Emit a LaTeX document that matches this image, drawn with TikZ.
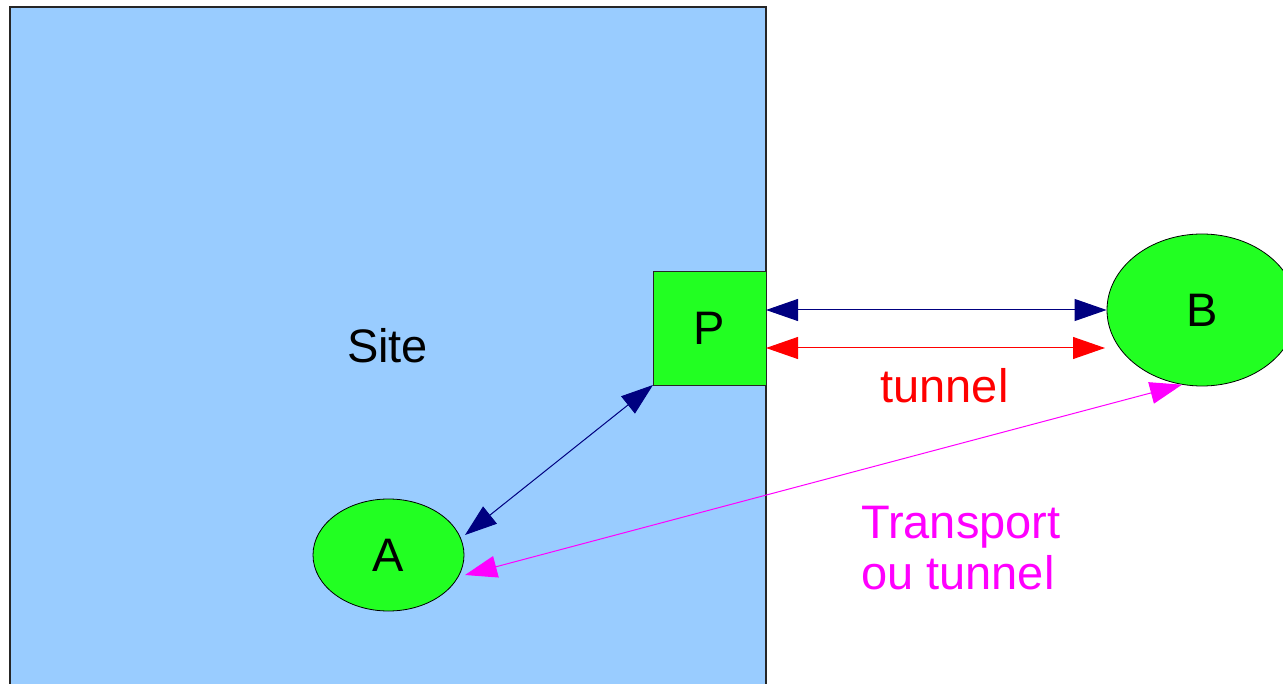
\documentclass[tikz,border=0pt]{standalone}
\usepackage{fontspec}
\setmainfont{Liberation Sans}
\usetikzlibrary{shapes.geometric,arrows.meta}
\definecolor{sitefill}{HTML}{99CCFF}
\definecolor{grn}{HTML}{22FF22}
\definecolor{navyblue}{HTML}{000080}
\definecolor{mag}{HTML}{FF00FF}
\definecolor{redc}{HTML}{FF0000}
\tikzset{
  dbl/.style={arrows={Triangle[length=32pt,width=22pt]-Triangle[length=32pt,width=22pt]}, line width=1pt},
  blob/.style={ellipse, draw=black, line width=0.8pt, fill=grn, inner sep=0pt},
}
\begin{document}
\begin{tikzpicture}[x=1pt,y=-1pt,font=\fontsize{47}{51}\selectfont]
\useasboundingbox (0,0) rectangle (1283,684);
\clip (0,0) rectangle (1283,684);
\node[draw=black!85, line width=1.2pt, fill=sitefill, minimum width=756pt, minimum height=720pt, inner sep=0pt, outer sep=0pt, anchor=north west] (site) at (10,7) {};
\node[anchor=base] (sitelabel) at (387.5,363) {Site};
\node[draw=black!85, line width=0.8pt, fill=grn, minimum width=113pt, minimum height=114pt, inner sep=0pt, outer sep=0pt] (P) at (709.5,328) {P};
\node[blob, minimum width=190pt, minimum height=152pt] (B) at (1202,310) {B};
\node[blob, minimum width=151pt, minimum height=112pt] (A) at (388.5,555) {A};
\coordinate (r2) at (1105,348);
\coordinate (a1) at (465,535);
\coordinate (a2) at (465,575);
\draw[dbl, navyblue] (P.east |- B.west) -- (B.west);
\draw[dbl, redc] (P.east |- r2) -- (r2);
\draw[dbl, navyblue] (P.south west) -- (a1);
\draw[dbl, mag] (B.-105) -- (a2);
\node[redc, anchor=base] (tun) at (944.5,403) {tunnel};
\node[mag, align=left, anchor=base west, inner sep=0pt] (tr) at (861,589) {Transport\\ou tunnel};
\end{tikzpicture}
\end{document}
